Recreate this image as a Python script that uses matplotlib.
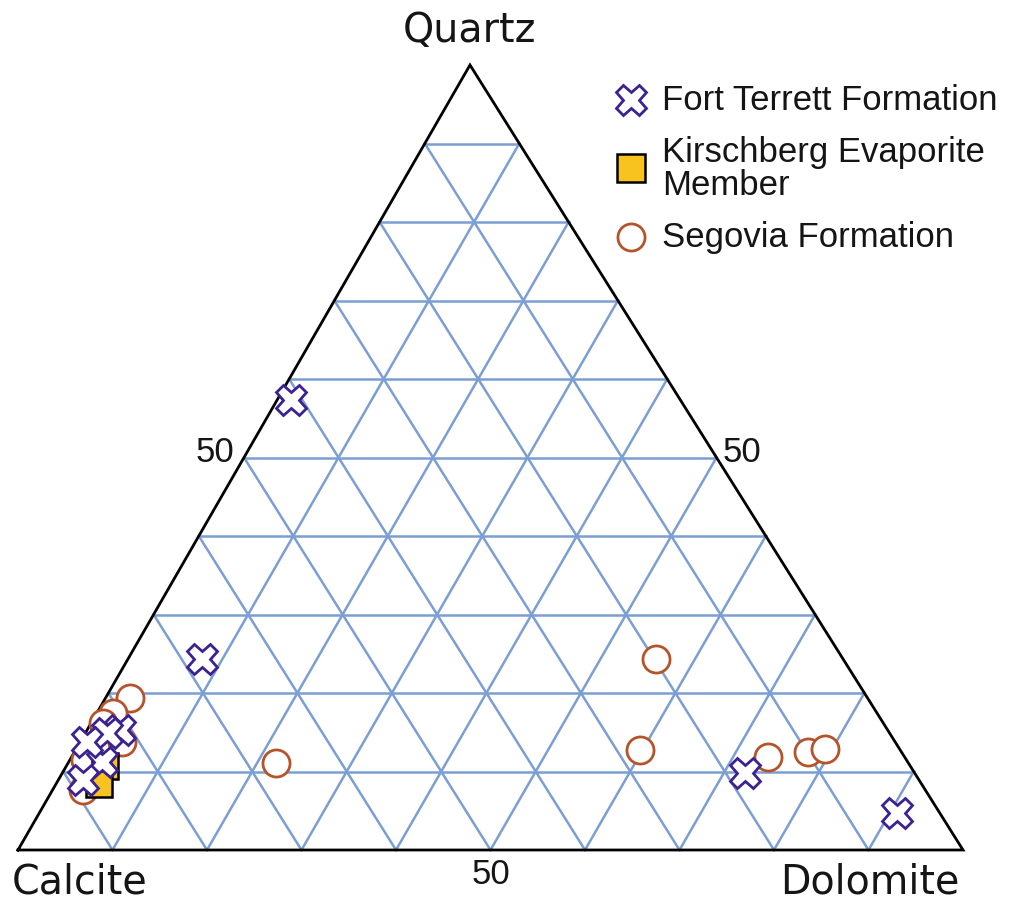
import matplotlib
matplotlib.use("Agg")
import matplotlib.pyplot as plt
from matplotlib.lines import Line2D

# Composition (percent) of each sample: Calcite / Dolomite / Quartz
fort_quartz = [57.3, 24.3, 9.8, 4.7, 15.3, 14.9, 11.2, 8.9, 13.8]
fort_dolomite = [1.5, 7.9, 72.2, 90.8, 3.5, 2.3, 3.5, 2.6, 0.7]
fort_calcite = [100 - q - d for q, d in zip(fort_quartz, fort_dolomite)]

kirsch_quartz = [10.7, 8.4]
kirsch_dolomite = [4.1, 4.6]
kirsch_calcite = [100 - q - d for q, d in zip(kirsch_quartz, kirsch_dolomite)]

segovia_quartz = [24.3, 12.7, 11.8, 12.5, 12.9, 11.1, 19.4, 17.5, 13.8, 11.5, 7.6, 16.2]
segovia_dolomite = [55.9, 59.7, 73.7, 77.6, 79.2, 22.0, 2.6, 1.7, 4.4, 1.6, 3.2, 1.2]
segovia_calcite = [100 - q - d for q, d in zip(segovia_quartz, segovia_dolomite)]

corner_labels = ["Calcite", "Dolomite", "Quartz"]
legend_labels = ["Fort Terrett Formation", "Kirschberg Evaporite\nMember", "Segovia Formation"]
grid_steps = [10, 20, 30, 40, 50, 60, 70, 80, 90]

# Styling
GRID = "#7b9ed3"
PURPLE = "#3b2191"
BROWN = "#b5532b"
YELLOW = "#f8c31e"
TXT = "#151515"

# Triangle corners in canvas units (Calcite, Dolomite, Quartz)
V_C = (18.0, 850.0)
V_D = (963.0, 850.0)
V_Q = (470.0, 65.0)


def tern(c, d, q):
    """Project calcite/dolomite/quartz fractions onto the triangle."""
    if not hasattr(c, "__len__"):
        s = c + d + q
        c, d, q = c / s, d / s, q / s
        return (V_C[0] * c + V_D[0] * d + V_Q[0] * q,
                V_C[1] * c + V_D[1] * d + V_Q[1] * q)
    xs, ys = [], []
    for ci, di, qi in zip(c, d, q):
        x, y = tern(ci, di, qi)
        xs.append(x)
        ys.append(y)
    return xs, ys


fig = plt.figure(figsize=(10.18, 9.02), dpi=100)
ax = fig.add_axes([0, 0, 1, 1])
ax.set_xlim(0, 1018)
ax.set_ylim(902, 0)
ax.axis("off")

# 10 % grid
for g in grid_steps:
    # constant quartz
    p1 = tern(100 - g, 0, g)
    p2 = tern(0, 100 - g, g)
    ax.plot([p1[0], p2[0]], [p1[1], p2[1]], color=GRID, lw=1.8, zorder=1)
    # constant dolomite
    p1 = tern(100 - g, g, 0)
    p2 = tern(0, g, 100 - g)
    ax.plot([p1[0], p2[0]], [p1[1], p2[1]], color=GRID, lw=1.8, zorder=1)
    # constant calcite
    p1 = tern(g, 100 - g, 0)
    p2 = tern(g, 0, 100 - g)
    ax.plot([p1[0], p2[0]], [p1[1], p2[1]], color=GRID, lw=1.8, zorder=1)

# Outline
ax.plot([V_C[0], V_D[0], V_Q[0], V_C[0]], [V_C[1], V_D[1], V_Q[1], V_C[1]],
        color="black", lw=2.0, zorder=2, solid_joinstyle="miter")

# Samples
xs, ys = tern(segovia_calcite, segovia_dolomite, segovia_quartz)
ax.plot(xs, ys, ls="none", marker="o", ms=19.5, mfc="white", mec=BROWN, mew=2.0, zorder=3)

xs, ys = tern(kirsch_calcite, kirsch_dolomite, kirsch_quartz)
ax.plot(xs, ys, ls="none", marker="s", ms=19, mfc=YELLOW, mec="black", mew=1.8, zorder=4)

xs, ys = tern(fort_calcite, fort_dolomite, fort_quartz)
ax.plot(xs, ys, ls="none", marker="X", ms=22, mfc="white", mec=PURPLE, mew=2.0, zorder=5)

# Corner labels
corner_font = dict(fontsize=28.5, family="DejaVu Sans", color=TXT)
ax.text(470, 42, corner_labels[2], ha="center", va="baseline", **corner_font)
ax.text(12, 893, corner_labels[0], ha="left", va="baseline", **corner_font)
ax.text(960, 893, corner_labels[1], ha="right", va="baseline", **corner_font)

# Midpoint labels
lab_font = dict(fontsize=25, family="Liberation Sans", color=TXT)
ax.text(234, 453, "50", ha="right", va="center", **lab_font)
ax.text(723, 453, "50", ha="left", va="center", **lab_font)
ax.text(491, 858, "50", ha="center", va="top", **lab_font)

# Legend
leg_y = [100, 168, 237]
leg_marker = [dict(marker="X", mfc="white", mec=PURPLE, ms=22, mew=2.0),
              dict(marker="s", mfc=YELLOW, mec="black", ms=20, mew=1.8),
              dict(marker="o", mfc="white", mec=BROWN, ms=19.5, mew=2.0)]
for y, lab, mk in zip(leg_y, legend_labels, leg_marker):
    ax.add_line(Line2D([631], [y], ls="none", **mk))
    ax.text(662, y + 1, lab, ha="left", va="center", fontsize=25,
            family="Liberation Sans", color=TXT, linespacing=0.98)

fig.savefig("out.png", dpi=100, facecolor="white")
